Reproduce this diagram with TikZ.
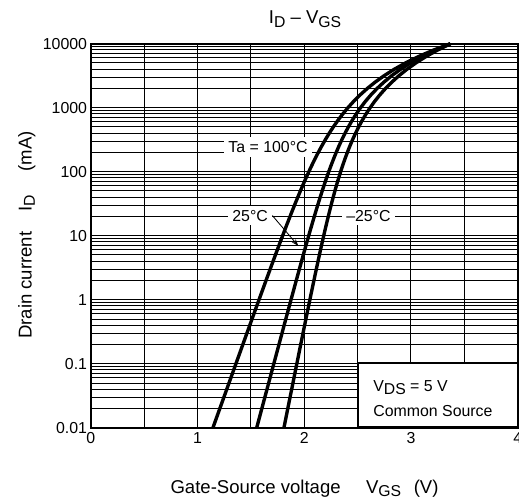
\documentclass[tikz,border=0pt]{standalone}
\usepackage{fontspec}
\setmainfont{Liberation Sans}
\usetikzlibrary{arrows.meta,positioning}
\newcommand{\lsub}[1]{\raisebox{-2.2pt}{\fontsize{11.2pt}{12pt}\selectfont #1}}

\begin{document}
\begin{tikzpicture}[%
          x=2.66875cm, y=1.6cm,
          gridline/.style={line width=0.7pt},
          frame/.style={line width=1.3pt},
          curve/.style={line width=2.4pt, line join=round, domain=0:6, samples=61, variable=\t},
          ticklab/.style={font=\fontsize{11.3pt}{13pt}\selectfont, inner sep=0pt},
          axislab/.style={font=\fontsize{13.2pt}{15pt}\selectfont},
          templab/.style={font=\fontsize{11.3pt}{13pt}\selectfont, fill=white, inner sep=3pt},
          legendbox/.style={draw, frame, fill=white, anchor=south west,
              minimum width=4.0cm, minimum height=1.6cm, inner sep=0pt},
        ]
        \useasboundingbox (-0.8497,-1.114) rectangle (4.012,6.683);

        \foreach \x in {0.5,1,...,3.5}
          \draw[gridline] (\x,0) -- (\x,6);
        \foreach \k in {0,...,5}
          \foreach \m in {2,...,10}
            \draw[gridline] (0,{\k+log10(\m)}) -- (4,{\k+log10(\m)});

        \node[legendbox] (legend) at (2.5,0) {};

        \draw[curve] plot ({1.145+0.215*\t+0.935*exp(1.597*(\t-6))},\t);
        \draw[curve] plot ({1.555+0.16*\t+0.855*exp(1.6*(\t-6))},\t);
        \draw[curve] plot ({1.81+0.12*\t+0.84*exp(1.4*(\t-6))},\t);

        \draw[frame] (0,0) rectangle (4,6);

        \foreach \v [count=\i from 0] in {0.01,0.1,1,10,100,1000,10000}
          \node[ticklab, anchor=east, xshift=-2.4pt] (ytick\i) at (0,\i) {\v};
        \foreach \v in {0,...,4}
          \node[ticklab, anchor=north, yshift=-3.4pt] (xtick\v) at (\v,0) {\v};

        \node[axislab, anchor=base] (title) at (2.008,6.308) {I\lsub{D} – V\lsub{GS}};
        \node[axislab, rotate=90, anchor=base] (ylabel) at (-0.553,3.01)
            {Drain current\hspace{14pt}I\lsub{D}\hspace{17pt}(mA)};
        \node[axislab, anchor=base] (xlabel) at (2.003,-1.025)
            {Gate-Source voltage\hspace{18pt}V\lsub{GS}\hspace{9pt}(V)};

        \node[templab, anchor=base] (t100) at (1.661,4.297) {Ta = 100°C};
        \node[templab, anchor=base] (t25) at (1.493,3.23) {25°C};
        \node[templab, anchor=base] (tm25) at (2.602,3.23) {–25°C};
        \coordinate (tip25) at (1.945,2.84);
        \draw[-{Stealth[length=5pt,width=3.5pt]}, line width=0.6pt] (t25.east) -- (tip25);

        \node[ticklab, anchor=base west] (vds) at (2.645,0.5625) {V\lsub{DS} = 5 V};
        \node[ticklab, anchor=base west] (csrc) at (2.645,0.183) {Common Source};
      \end{tikzpicture}
\end{document}
